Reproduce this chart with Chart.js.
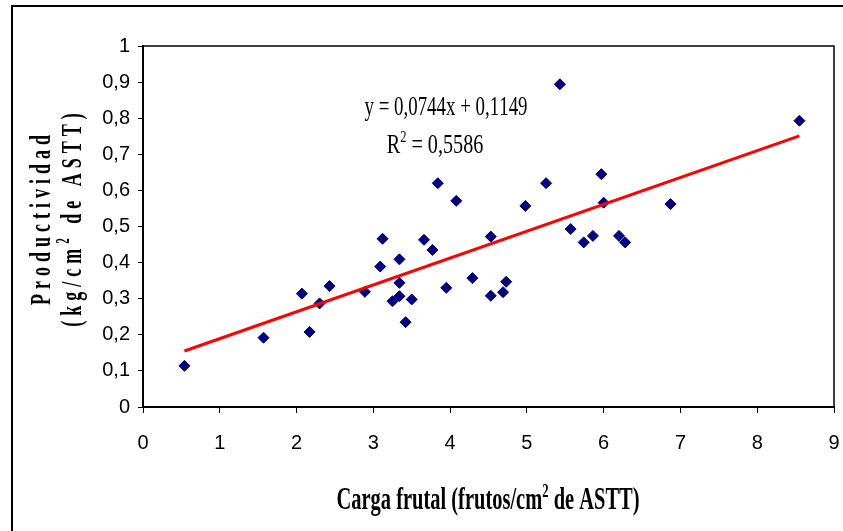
<!DOCTYPE html>
<html>
<head>
<meta charset="utf-8">
<script src="https://cdn.jsdelivr.net/npm/chart.js@4/dist/chart.umd.min.js"></script>
<style>
  html, body { margin: 0; padding: 0; background: #ffffff; }
  #wrap { width: 843px; height: 531px; position: relative; }
</style>
</head>
<body>
<div id="wrap"><canvas id="c" width="843" height="531"></canvas></div>
<script>
// ---- data ----
const carga = [0.54, 1.57, 2.07, 2.17, 2.30, 2.43, 2.89, 3.09, 3.12, 3.25, 3.34, 3.34, 3.34, 3.42, 3.50, 3.66, 3.77, 3.84, 4.08, 3.95, 4.29, 5.43, 8.55, 4.98, 5.25, 5.97, 6.00, 6.87, 5.57, 5.74, 5.86, 6.20, 6.28, 4.53, 4.53, 4.69, 4.73];
const productividad = [0.114, 0.192, 0.314, 0.208, 0.287, 0.335, 0.319, 0.389, 0.466, 0.293, 0.409, 0.344, 0.307, 0.235, 0.298, 0.463, 0.435, 0.620, 0.571, 0.330, 0.357, 0.894, 0.793, 0.557, 0.620, 0.645, 0.566, 0.562, 0.493, 0.456, 0.474, 0.474, 0.456, 0.472, 0.308, 0.318, 0.347];
const pendiente = 0.0744;
const intercepto = 0.1149;
const r2Label = '0,5586';
const xTickLabels = ['0', '1', '2', '3', '4', '5', '6', '7', '8', '9'];
const yTickLabels = ['0', '0,1', '0,2', '0,3', '0,4', '0,5', '0,6', '0,7', '0,8', '0,9', '1'];

const puntos = carga.map((x, i) => ({ x: x, y: productividad[i] }));
const xMin = Math.min(...carga), xMax = Math.max(...carga);
const tendencia = [xMin, xMax].map(x => ({ x: x, y: intercepto + pendiente * x }));

// ---- text helper (condensed / spaced rich text) ----
function drawRich(ctx, segs, x, y, o) {
  ctx.save();
  ctx.translate(x, y);
  if (o.rotate) ctx.rotate(o.rotate);
  ctx.scale(o.sx, 1);
  ctx.fillStyle = '#000';
  ctx.textBaseline = 'alphabetic';
  ctx.textAlign = 'left';
  const sp = (o.spacing || 0) / o.sx;
  const items = [];
  segs.forEach(s => {
    const size = s.sup ? o.size * 0.62 : o.size;
    const f = o.weight + ' ' + size + 'px ' + o.family;
    ctx.font = f;
    for (const ch of s.t) {
      items.push({ ch, f, w: ctx.measureText(ch).width, dy: s.sup ? -o.size * 0.4 : 0 });
    }
  });
  let total = items.reduce((a, it) => a + it.w, 0) + sp * (items.length - 1);
  let cx = -total / 2;
  items.forEach(it => {
    ctx.font = it.f;
    ctx.fillText(it.ch, cx, it.dy);
    cx += it.w + sp;
  });
  ctx.restore();
}

const serif = "'Liberation Serif', 'Times New Roman', serif";

const decor = {
  id: 'decor',
  beforeDraw(chart) {
    const ctx = chart.ctx;
    ctx.save();
    ctx.fillStyle = '#fff';
    ctx.fillRect(0, 0, chart.width, chart.height);
    ctx.strokeStyle = '#000';
    ctx.lineWidth = 2;
    ctx.strokeRect(12, 6, 900, 700);
    ctx.restore();
  },
  afterDraw(chart) {
    const ctx = chart.ctx;
    const a = chart.chartArea;
    ctx.save();
    ctx.strokeStyle = '#000';
    ctx.lineWidth = 1.5;
    ctx.beginPath();
    ctx.moveTo(a.left, a.top);
    ctx.lineTo(a.right, a.top);
    ctx.lineTo(a.right, a.bottom);
    ctx.stroke();
    ctx.restore();

    // regression annotation
    drawRich(ctx, [{ t: 'y = 0,0744x + 0,1149' }], 446, 115,
      { family: serif, size: 28, weight: 'normal', sx: 0.675 });
    drawRich(ctx, [{ t: 'R' }, { t: '2', sup: true }, { t: ' = ' + r2Label }], 435, 153,
      { family: serif, size: 28, weight: 'normal', sx: 0.72 });

    // x axis title
    drawRich(ctx, [{ t: 'Carga frutal (frutos/cm' }, { t: '2', sup: true }, { t: ' de ASTT)' }], 488, 509,
      { family: serif, size: 31, weight: 'bold', sx: 0.66 });

    // y axis title (two lines, rotated)
    drawRich(ctx, [{ t: 'Productividad' }], 50, 220,
      { family: serif, size: 29, weight: 'bold', sx: 0.62, spacing: 5, rotate: -Math.PI / 2 });
    drawRich(ctx, [{ t: '(kg/cm' }, { t: '2', sup: true }, { t: ' de ASTT)' }], 81, 220,
      { family: serif, size: 29, weight: 'bold', sx: 0.62, spacing: 5, rotate: -Math.PI / 2 });
  }
};

const tickFont = { family: "'Liberation Sans Narrow', 'Liberation Sans', Arial, sans-serif", size: 20 };

new Chart(document.getElementById('c'), {
  type: 'scatter',
  data: {
    datasets: [
      {
        label: 'Tendencia',
        data: tendencia,
        showLine: true,
        borderColor: '#ff0000',
        borderWidth: 3,
        pointRadius: 0,
        fill: false,
        order: 0
      },
      {
        label: 'Productividad',
        data: puntos,
        pointStyle: 'rectRot',
        pointRadius: 5.5,
        pointBackgroundColor: '#000080',
        pointBorderColor: '#000080',
        pointBorderWidth: 1,
        order: 1
      }
    ]
  },
  options: {
    responsive: false,
    animation: false,
    devicePixelRatio: 1,
    layout: { padding: { left: 0, top: 46, right: 9, bottom: 0 } },
    plugins: { legend: { display: false }, tooltip: { enabled: false } },
    scales: {
      x: {
        type: 'linear',
        min: 0, max: 9,
        afterFit(s) { s.height = 124; s.paddingLeft = 0; s.paddingRight = 0; },
        ticks: {
          stepSize: 1,
          color: '#000',
          font: tickFont,
          padding: 18,
          maxRotation: 0,
          callback: (v, i) => xTickLabels[i]
        },
        grid: { drawOnChartArea: false, drawTicks: true, tickLength: 6, color: '#000', lineWidth: 1 },
        border: { display: true, color: '#000', width: 2 }
      },
      y: {
        type: 'linear',
        min: 0, max: 1,
        afterFit(s) { s.width = 143; s.paddingTop = 0; s.paddingBottom = 0; },
        ticks: {
          stepSize: 0.1,
          color: '#000',
          font: tickFont,
          padding: 8,
          callback: (v, i) => yTickLabels[i]
        },
        grid: { drawOnChartArea: false, drawTicks: true, tickLength: 5, color: '#000', lineWidth: 1 },
        border: { display: true, color: '#000', width: 2 }
      }
    }
  },
  plugins: [decor]
});
</script>
</body>
</html>
